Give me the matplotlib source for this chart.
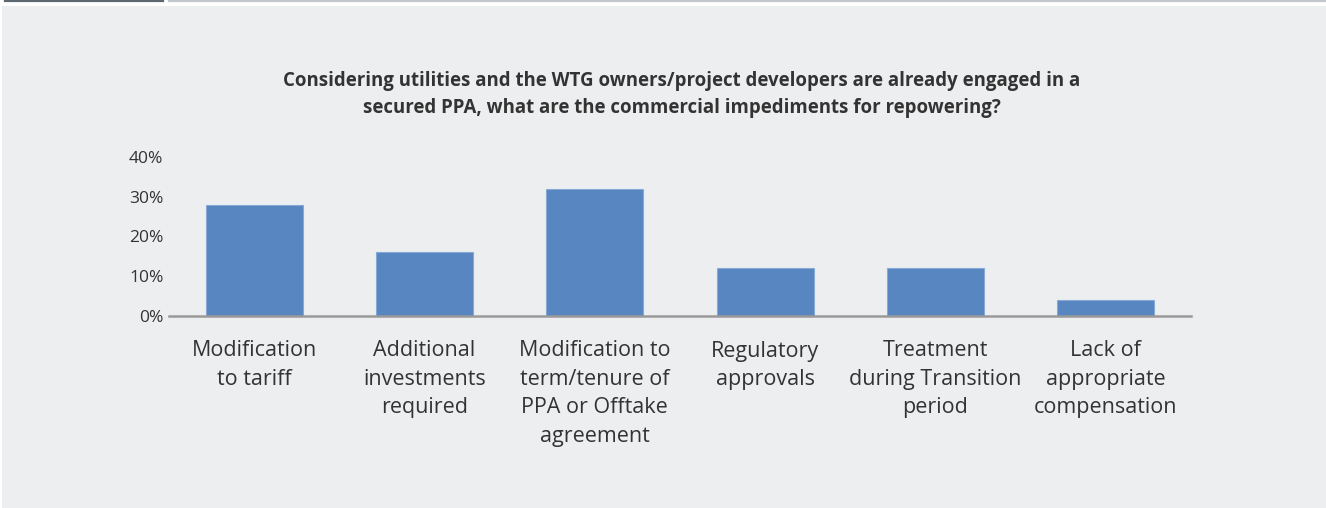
import matplotlib.pyplot as plt
from matplotlib.lines import Line2D
from matplotlib.patches import Rectangle
from matplotlib.ticker import PercentFormatter

categories = [
    "Modification\nto tariff",
    "Additional\ninvestments\nrequired",
    "Modification to\nterm/tenure of\nPPA or Offtake\nagreement",
    "Regulatory\napprovals",
    "Treatment\nduring Transition\nperiod",
    "Lack of\nappropriate\ncompensation",
]
shares = [0.28, 0.16, 0.32, 0.12, 0.12, 0.04]
y_ticks = [0.0, 0.1, 0.2, 0.3, 0.4]

title = ("Considering utilities and the WTG owners/project developers are already engaged in a\n"
         "secured PPA, what are the commercial impediments for repowering?")

W, H = 1326, 508
BG = "#edeef0"
BAR = "#5886c0"
TXT = "#333333"

plt.rcParams["font.family"] = ["Open Sans", "DejaVu Sans"]

fig = plt.figure(figsize=(W / 100, H / 100), dpi=100)
fig.patch.set_facecolor(BG)

# white margins top/left and the thin header rules
fig.add_artist(Rectangle((0, 1 - 6 / H), 1, 6 / H, transform=fig.transFigure,
                         facecolor="white", edgecolor="none", zorder=0))
fig.add_artist(Rectangle((0, 0), 2 / W, 1, transform=fig.transFigure,
                         facecolor="white", edgecolor="none", zorder=0))
fig.add_artist(Line2D([5 / W, 163 / W], [1 - 1 / H] * 2, transform=fig.transFigure,
                      color="#5d676f", lw=1.6))
fig.add_artist(Line2D([169 / W, 1], [1 - 1 / H] * 2, transform=fig.transFigure,
                      color="#c2c6cb", lw=1.6))

ax = fig.add_axes([169 / W, 1 - 315.5 / H, (1191 - 169) / W, (315.5 - 157) / H])
ax.set_facecolor("none")

x = range(len(categories))
ax.bar(x, shares, width=0.57, color=BAR, edgecolor="#86a9d6", linewidth=0.8, zorder=2)

ax.set_xlim(-0.5, len(categories) - 0.5)
ax.set_ylim(0, 0.4)
ax.set_yticks(y_ticks)
ax.yaxis.set_major_formatter(PercentFormatter(1.0, decimals=0))
ax.set_xticks(list(x))
ax.set_xticklabels(categories, fontsize=15.5, color=TXT, linespacing=1.46, va="top")
ax.tick_params(axis="x", length=0, pad=18)
ax.tick_params(axis="y", length=0, pad=4, labelsize=12.5, labelcolor=TXT)

for side in ["top", "right", "left"]:
    ax.spines[side].set_visible(False)
ax.spines["bottom"].set_color("#9a9a9a")
ax.spines["bottom"].set_linewidth(1.8)

fig.text(682 / W, 1 - 94.5 / H, title, ha="center", va="center", fontsize=13.4,
         fontweight="bold", color=TXT, linespacing=1.45)

fig.savefig("out.png", dpi=100, facecolor=fig.get_facecolor())
